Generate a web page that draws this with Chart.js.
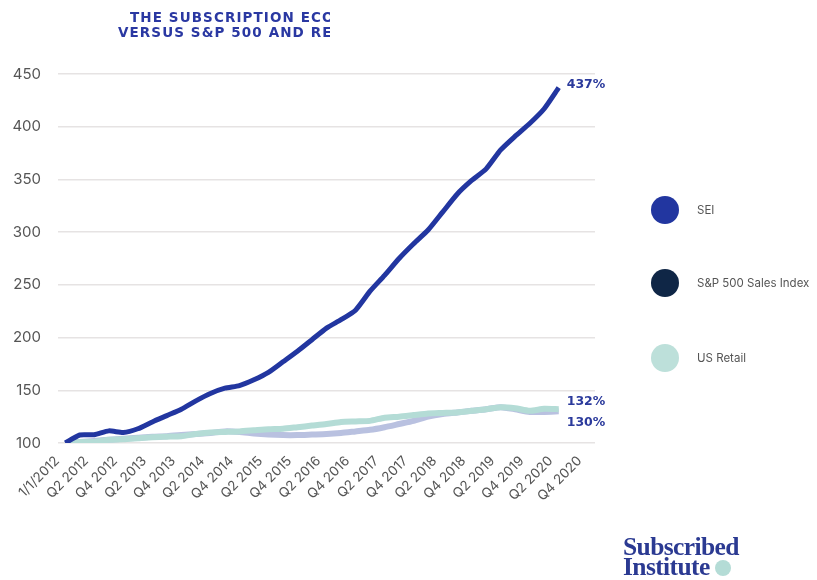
<!DOCTYPE html>
<html>
<head>
<meta charset="utf-8">
<script src="https://cdn.jsdelivr.net/npm/chart.js@4"></script>
<style>
  body { margin: 0; background: #fff; font-family: Inter, 'Open Sans', sans-serif; }
  #wrap { position: relative; width: 817px; height: 580px; overflow: hidden; }
  #chart { position: absolute; left: 0; top: 0; }
  .title { position: absolute; overflow: hidden; white-space: nowrap; color: #2a38a2;
    font: 900 13.5px 'DejaVu Sans', sans-serif; letter-spacing: 1.1px; }
  .legend-item { position: absolute; left: 651px; height: 28px; display: flex; align-items: center;
    font-size: 11.5px; color: #555; white-space: nowrap; }
  .legend-dot { width: 28px; height: 28px; border-radius: 50%; margin-right: 18px; flex: none; }
  #logo { position: absolute; left: 623px; top: 537px; color: #2b3a92;
    font: bold 25.5px 'Liberation Serif', serif; line-height: 20px; letter-spacing: -0.6px; }
  #logo .dot { display: inline-block; width: 16px; height: 16px; border-radius: 50%;
    background: #b4dcd6; margin-left: 5px; vertical-align: -1px; }
</style>
</head>
<body>
<div id="wrap">
  <canvas id="chart" width="817" height="580"></canvas>
  <div class="title" style="left:130px; top:9px; width:200px;">THE SUBSCRIPTION ECONOMY INDEX</div>
  <div class="title" style="left:118px; top:24px; width:212px;">VERSUS S&amp;P 500 AND RETAIL</div>
  <div id="legend"></div>
  <div id="logo">Subscribed<br>Institute<span class="dot"></span></div>
</div>
<script>
const categories = ['1/1/2012', 'Q1 2012', 'Q2 2012', 'Q3 2012', 'Q4 2012',
  'Q1 2013', 'Q2 2013', 'Q3 2013', 'Q4 2013', 'Q1 2014', 'Q2 2014', 'Q3 2014', 'Q4 2014',
  'Q1 2015', 'Q2 2015', 'Q3 2015', 'Q4 2015', 'Q1 2016', 'Q2 2016', 'Q3 2016', 'Q4 2016',
  'Q1 2017', 'Q2 2017', 'Q3 2017', 'Q4 2017', 'Q1 2018', 'Q2 2018', 'Q3 2018', 'Q4 2018',
  'Q1 2019', 'Q2 2019', 'Q3 2019', 'Q4 2019', 'Q1 2020', 'Q2 2020', 'Q3 2020', 'Q4 2020'];

const seiValues = [100, 107.6, 107.8, 111.5, 110, 113.5, 120, 126, 132, 140, 147, 152, 154.5,
  160, 167, 177, 187, 198, 209, 217, 226, 244, 259, 275, 289, 302, 319, 336, 349, 360,
  378, 391, 403, 417, 437];
const spValues = [100, 101, 102, 103, 104, 105, 106, 106.5, 107.5, 108.5, 109.5, 111, 110.5,
  109, 108, 107.5, 107.5, 108, 108.5, 109.5, 111, 112.5, 115, 118, 121, 125, 127.5, 129,
  130.5, 132, 134, 132, 129.5, 129.5, 130];
const retailValues = [100, 101, 101, 103, 103.5, 104.5, 105.5, 106, 106.5, 108.5, 110, 110.5,
  111, 112, 113, 113.5, 115, 116.5, 118, 120, 120.5, 121, 124, 125, 126.5, 128, 128.5, 129,
  130.5, 132, 134, 133, 130.5, 132.5, 132];

const seriesNames = ['SEI', 'S&P 500 Sales Index', 'US Retail'];
const endLabels = ['437%', '130%', '132%'];
const yTicks = [100, 150, 200, 250, 300, 350, 400, 450];

const lineColors = ['#2236a0', '#b9c1e0', '#b4dcd6'];
const legendColors = ['#2236a0', '#0f2646', '#bde0da'];

// legend on the right, as in the original
const legend = document.getElementById('legend');
[210, 283, 358].forEach((cy, i) => {
  const item = document.createElement('div');
  item.className = 'legend-item';
  item.style.top = (cy - 14) + 'px';
  item.innerHTML = '<span class="legend-dot" style="background:' + legendColors[i] + '"></span>';
  item.appendChild(document.createTextNode(seriesNames[i]));
  legend.appendChild(item);
});

const endLabelPlugin = {
  id: 'endLabelPlugin',
  afterDatasetsDraw(chart) {
    const ctx = chart.ctx;
    const offsets = [-3, 11, -8];
    ctx.save();
    ctx.font = 'bold 12.5px "DejaVu Sans", sans-serif';
    ctx.fillStyle = '#2b3a9c';
    ctx.textBaseline = 'middle';
    chart.data.datasets.forEach((ds, i) => {
      const pts = chart.getDatasetMeta(i).data;
      const last = pts[pts.length - 1];
      ctx.fillText(endLabels[i], last.x + 8, last.y + offsets[i]);
    });
    ctx.restore();
  },
};

new Chart(document.getElementById('chart'), {
  type: 'line',
  data: {
    labels: categories,
    datasets: [
      { label: seriesNames[0], data: seiValues, borderColor: lineColors[0], borderWidth: 5, order: 0 },
      { label: seriesNames[1], data: spValues, borderColor: lineColors[1], borderWidth: 6, order: 2 },
      { label: seriesNames[2], data: retailValues, borderColor: lineColors[2], borderWidth: 6, order: 1 },
    ],
  },
  options: {
    responsive: false,
    animation: false,
    devicePixelRatio: 1,
    elements: {
      point: { radius: 0 },
      line: { tension: 0.2, borderCapStyle: 'butt', borderJoinStyle: 'round' },
    },
    layout: { padding: { top: 74, right: 222, left: 0, bottom: 0 } },
    scales: {
      x: {
        offset: true,
        grid: { display: false },
        border: { display: false },
        afterFit: (scale) => { scale.height = 137; },
        ticks: {
          autoSkip: false,
          minRotation: 45,
          maxRotation: 45,
          labelOffset: -8,
          padding: 2,
          color: '#555',
          font: { size: 13.5, family: 'Inter, sans-serif' },
          callback: (val, i) => (i % 2 === 0 ? categories[i] : ''),
        },
      },
      y: {
        min: 100,
        max: 450,
        afterFit: (scale) => { scale.width = 58; },
        afterBuildTicks: (scale) => {
          scale.ticks = yTicks.map((v) => ({ value: v }));
        },
        grid: { color: '#e6e3e3', lineWidth: 1.5, drawTicks: false },
        border: { display: false },
        ticks: {
          padding: 17,
          color: '#555',
          font: { size: 15, family: 'Inter, sans-serif' },
        },
      },
    },
    plugins: {
      legend: { display: false },
      tooltip: { enabled: false },
    },
  },
  plugins: [endLabelPlugin],
});
</script>
</body>
</html>
